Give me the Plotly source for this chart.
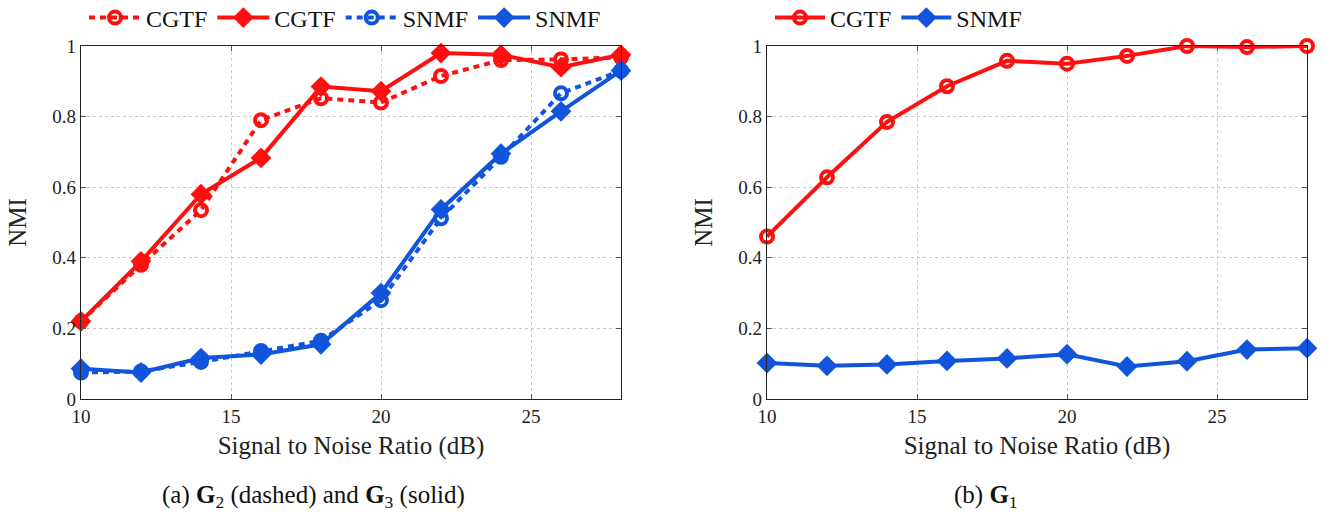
import plotly.graph_objects as go

snr = [10, 12, 14, 16, 18, 20, 22, 24, 26, 28]

# Panel (a): G2 (dashed) and G3 (solid)
cgtf_g2 = [0.22, 0.38, 0.535, 0.79, 0.852, 0.84, 0.915, 0.96, 0.962, 0.968]
cgtf_g3 = [0.22, 0.39, 0.58, 0.683, 0.885, 0.872, 0.98, 0.975, 0.94, 0.975]
snmf_g2 = [0.075, 0.078, 0.105, 0.136, 0.165, 0.28, 0.512, 0.686, 0.866, 0.93]
snmf_g3 = [0.086, 0.075, 0.116, 0.126, 0.155, 0.30, 0.537, 0.695, 0.815, 0.93]

# Panel (b): G1
cgtf_g1 = [0.46, 0.628, 0.785, 0.886, 0.958, 0.95, 0.972, 1.0, 0.997, 1.0]
snmf_g1 = [0.102, 0.094, 0.098, 0.108, 0.115, 0.127, 0.092, 0.107, 0.14, 0.144]

x_ticks = [10, 15, 20, 25]
y_ticks = [0, 0.2, 0.4, 0.6, 0.8, 1.0]
y_ticktext = ["0", "0.2", "0.4", "0.6", "0.8", "1"]

RED = "#FF1010"
BLUE = "#1155DD"
FONT = "Liberation Serif"

fig = go.Figure()

def add(x, y, color, dash, symbol, name, xa, ya, legend):
    open_sym = symbol.endswith("open")
    fig.add_trace(go.Scatter(
        x=x, y=y, name=name, mode="lines+markers",
        line=dict(color=color, width=4, dash=dash),
        marker=dict(symbol=symbol, color=color, size=12 if open_sym else 16,
                    line=dict(color=color, width=4 if open_sym else 0)),
        xaxis=xa, yaxis=ya, legend=legend, cliponaxis=False,
    ))

add(snr, cgtf_g2, RED, "6px,5px", "circle-open", "CGTF", "x", "y", "legend")
add(snr, cgtf_g3, RED, "solid", "diamond", "CGTF", "x", "y", "legend")
add(snr, snmf_g2, BLUE, "6px,5px", "circle-open", "SNMF", "x", "y", "legend")
add(snr, snmf_g3, BLUE, "solid", "diamond", "SNMF", "x", "y", "legend")

add(snr, cgtf_g1, RED, "solid", "circle-open", "CGTF", "x2", "y2", "legend2")
add(snr, snmf_g1, BLUE, "solid", "diamond", "SNMF", "x2", "y2", "legend2")

xaxis_common = dict(
    range=[10, 28], tickvals=x_ticks, showgrid=True, gridcolor="#c8c8c8",
    griddash="dot", gridwidth=1, showline=True, linecolor="#222", linewidth=1.2,
    mirror="ticks", ticks="inside", ticklen=5, tickcolor="#555", zeroline=False,
    automargin=False,
    tickfont=dict(family=FONT, size=19, color="#222"),
    title=dict(text="Signal to Noise Ratio (dB)", standoff=10,
               font=dict(family=FONT, size=25, color="#222")),
)
yaxis_common = dict(
    range=[0, 1], tickvals=y_ticks, ticktext=y_ticktext, showgrid=True,
    gridcolor="#c8c8c8", griddash="dot", gridwidth=1, showline=True,
    linecolor="#222", linewidth=1.2, mirror="ticks", ticks="inside",
    ticklen=5, tickcolor="#555", zeroline=False, automargin=False,
    tickfont=dict(family=FONT, size=19, color="#222"),
    title=dict(text="NMI", standoff=18, font=dict(family=FONT, size=25, color="#222")),
)

W, H = 1330, 512
ML, MR, MT, MB = 81, 23, 46, 113
PW = W - ML - MR
PH = H - MT - MB

def px_x(px):
    return (px - ML) / PW

def px_y(py):
    return 1 - (py - MT) / PH

fig.update_layout(
    width=W, height=H,
    margin=dict(l=ML, r=MR, t=MT, b=MB, autoexpand=False),
    paper_bgcolor="white", plot_bgcolor="white",
    xaxis=dict(domain=[0, px_x(621)], anchor="y", **xaxis_common),
    yaxis=dict(domain=[0, 1], anchor="x", **yaxis_common),
    xaxis2=dict(domain=[px_x(767), 1], anchor="y2", **xaxis_common),
    yaxis2=dict(domain=[0, 1], anchor="x2", **yaxis_common),
    legend=dict(orientation="h", x=px_x(84), y=px_y(18),
                xanchor="left", yanchor="middle",
                font=dict(family=FONT, size=24, color="#111"),
                bgcolor="rgba(0,0,0,0)", itemwidth=52, tracegroupgap=0),
    legend2=dict(orientation="h", x=px_x(770), y=px_y(18),
                 xanchor="left", yanchor="middle",
                 font=dict(family=FONT, size=24, color="#111"),
                 bgcolor="rgba(0,0,0,0)", itemwidth=50),
    showlegend=True,
    annotations=[
        dict(text="(a) <b>G</b><sub>2</sub> (dashed) and <b>G</b><sub>3</sub> (solid)",
             x=px_x(313), y=px_y(496), xanchor="center", yanchor="middle",
             xref="paper", yref="paper", showarrow=False,
             font=dict(family=FONT, size=25, color="#111")),
        dict(text="(b) <b>G</b><sub>1</sub>",
             x=px_x(986), y=px_y(496), xanchor="center", yanchor="middle",
             xref="paper", yref="paper", showarrow=False,
             font=dict(family=FONT, size=25, color="#111")),
    ],
)

fig.write_html("out.html", config={"displayModeBar": False},
               post_script="document.body.style.margin='0px';")
